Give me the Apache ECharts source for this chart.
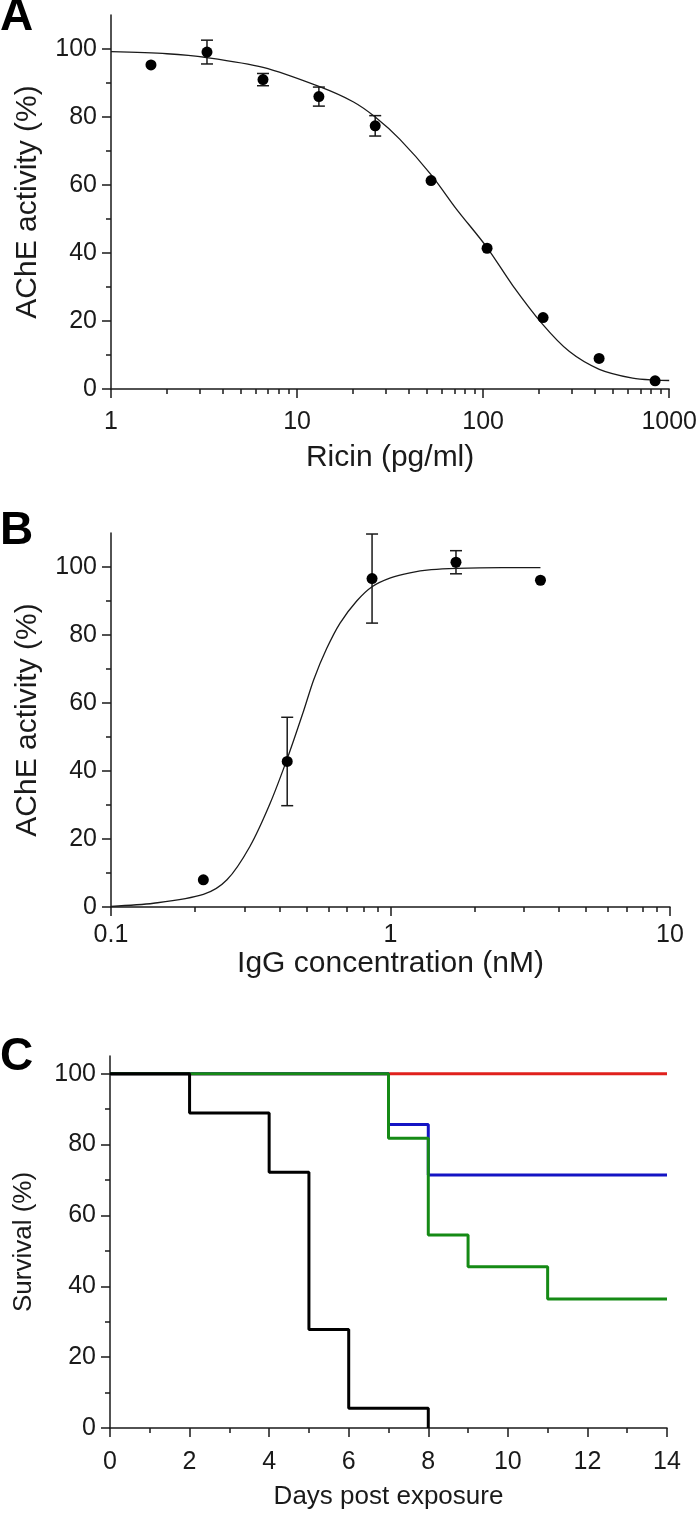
<!DOCTYPE html>
<html>
<head>
<meta charset="utf-8">
<script src="https://cdn.jsdelivr.net/npm/echarts@6/dist/echarts.min.js"></script>
<style>
  html, body { margin: 0; padding: 0; background: #fff; }
  #chart { width: 700px; height: 1513px; }
</style>
</head>
<body>
<div id="chart"></div>
<script>
// Panel A: ricin dose response
const ricinDose = [1.64, 3.28, 6.56, 13.1, 26.3, 52.5, 105, 210, 420, 840];
const ricinMean = [95.3, 99.1, 91.0, 86.0, 77.4, 61.3, 41.4, 21.0, 9.0, 2.4];
const ricinErr = [0, 3.5, 1.8, 2.8, 3.0, 0, 0, 0, 0, 0];
const ricinFitX = [1, 2, 3.26, 6.57, 13.1, 20, 26.3, 35.6, 52.6, 71.7, 105, 144, 209, 291, 421, 636, 849, 1000];
const ricinFitY = [99.2, 98.6, 97.5, 94.6, 89.0, 84.5, 80.0, 73.5, 63.0, 53.0, 41.6, 30.5, 19.0, 11.0, 5.8, 3.2, 2.6, 2.5];
const ricinMinorTicks = [2, 3, 4, 5, 6, 7, 8, 9, 20, 30, 40, 50, 60, 70, 80, 90, 200, 300, 400, 500, 600, 700, 800, 900];

// Panel B: IgG neutralisation
const iggConc = [0.214, 0.427, 0.859, 1.715, 3.44];
const iggMean = [8.0, 42.8, 96.6, 101.4, 96.1];
const iggErr = [0, 13.0, 13.1, 3.4, 0];
const iggFitX = [0.1, 0.142, 0.214, 0.26, 0.314, 0.371, 0.43, 0.488, 0.532, 0.591, 0.66, 0.757, 0.859, 1.0, 1.174, 1.4, 1.72, 2.5, 3.44];
const iggFitY = [0.2, 1.1, 3.7, 8.0, 17.8, 30.5, 44.3, 57.5, 67.0, 76.0, 83.5, 90.0, 94.2, 96.8, 98.3, 99.2, 99.6, 99.8, 99.8];
const iggMinorTicks = [0.2, 0.3, 0.4, 0.5, 0.6, 0.7, 0.8, 0.9, 2, 3, 4, 5, 6, 7, 8, 9];

// Panel C: survival curves (day, % alive)
const survRed = [[0, 100], [14, 100]];
const survBlue = [[0, 100], [7, 85.7], [8, 71.4], [14, 71.4]];
const survGreen = [[0, 100], [7, 81.8], [8, 54.5], [9, 45.5], [11, 36.4], [14, 36.4]];
const survBlack = [[0, 100], [2, 88.9], [4, 72.2], [5, 27.8], [6, 5.6], [8, 0]];
const dayMinorTicks = [1, 3, 5, 7, 9, 11, 13];

const pctTicks = [0, 20, 40, 60, 80, 100];
const pctMinorTicks = [10, 30, 50, 70, 90];

const font = 'Liberation Sans, Arial, sans-serif';
const ink = '#1a1a1a';

const zip = (xs, ys) => xs.map((x, i) => [x, ys[i]]);
const withErr = (xs, ys, es) => xs.map((x, i) => [x, ys[i], es[i]]).filter(d => d[2] > 0);

function errorBars(params, api) {
  const x = api.value(0), y = api.value(1), e = api.value(2);
  const top = api.coord([x, y + e]);
  const bot = api.coord([x, y - e]);
  const w = 6;
  const style = { stroke: ink, lineWidth: 1.5 };
  return {
    type: 'group',
    children: [
      { type: 'line', shape: { x1: top[0], y1: top[1], x2: bot[0], y2: bot[1] }, style },
      { type: 'line', shape: { x1: top[0] - w, y1: top[1], x2: top[0] + w, y2: top[1] }, style },
      { type: 'line', shape: { x1: bot[0] - w, y1: bot[1], x2: bot[0] + w, y2: bot[1] }, style }
    ]
  };
}

const axisLine = { show: true, onZero: false, lineStyle: { color: ink, width: 1.5 } };
const tickLabel = { fontSize: 25, color: ink, fontFamily: font };

function mainX(grid, margin, extra) {
  return Object.assign({
    gridIndex: grid,
    position: 'bottom',
    axisLine,
    axisTick: { show: true, inside: false, length: 9, lineStyle: { color: ink, width: 1.5 } },
    axisLabel: Object.assign({ margin: margin, formatter: v => String(v) }, tickLabel),
    splitLine: { show: false },
    nameLocation: 'middle',
    nameTextStyle: { fontSize: 30, color: ink, fontFamily: font }
  }, extra);
}
function minorX(grid, extra, ticks) {
  return Object.assign({
    gridIndex: grid,
    position: 'bottom',
    axisLine: { show: false, onZero: false },
    axisLabel: { show: false },
    splitLine: { show: false },
    axisTick: { show: true, inside: false, length: 5, customValues: ticks, lineStyle: { color: ink, width: 1.5 } }
  }, extra);
}
function mainY(grid, max, name, nameSize, nameGap) {
  return {
    gridIndex: grid, type: 'value', min: 0, max: max, position: 'left',
    axisLine,
    axisTick: { show: true, inside: false, length: 9, customValues: pctTicks, lineStyle: { color: ink, width: 1.5 } },
    axisLabel: Object.assign({ margin: 14, customValues: pctTicks }, tickLabel),
    splitLine: { show: false },
    name: name, nameLocation: 'middle', nameGap: nameGap,
    nameTextStyle: { fontSize: nameSize, color: ink, fontFamily: font }
  };
}
function minorY(grid, max) {
  return {
    gridIndex: grid, type: 'value', min: 0, max: max, position: 'left',
    axisLine: { show: false, onZero: false },
    axisLabel: { show: false },
    splitLine: { show: false },
    axisTick: { show: true, inside: false, length: 5, customValues: pctMinorTicks, lineStyle: { color: ink, width: 1.5 } }
  };
}

const panelLabel = (text, top) => ({
  text, left: 0, top, padding: 0,
  textStyle: { fontSize: 46, fontWeight: 'bold', color: '#000', fontFamily: font }
});

const option = {
  backgroundColor: '#fff',
  animation: false,
  title: [panelLabel('A', -6), panelLabel('B', 508), panelLabel('C', 1034)],
  grid: [
    { left: 111, width: 559, top: 15, height: 374 },
    { left: 111, width: 559, top: 533, height: 374 },
    { left: 110, width: 557, top: 1056, height: 372 }
  ],
  xAxis: [
    mainX(0, 21, { type: 'log', logBase: 10, min: 1, max: 1000, name: 'Ricin (pg/ml)', nameGap: 54 }),
    minorX(0, { type: 'log', logBase: 10, min: 1, max: 1000 }, ricinMinorTicks),
    mainX(1, 16, { type: 'log', logBase: 10, min: 0.1, max: 10, name: 'IgG concentration (nM)', nameGap: 40 }),
    minorX(1, { type: 'log', logBase: 10, min: 0.1, max: 10 }, iggMinorTicks),
    mainX(2, 22, { type: 'value', min: 0, max: 14, interval: 2, name: 'Days post exposure', nameGap: 56,
      nameTextStyle: { fontSize: 26, color: ink, fontFamily: font } }),
    minorX(2, { type: 'value', min: 0, max: 14 }, dayMinorTicks)
  ],
  yAxis: [
    mainY(0, 110, 'AChE activity (%)', 30, 68),
    minorY(0, 110),
    mainY(1, 110, 'AChE activity (%)', 30, 68),
    minorY(1, 110),
    mainY(2, 105, 'Survival (%)', 26, 73),
    minorY(2, 105)
  ],
  series: [
    { type: 'line', xAxisIndex: 0, yAxisIndex: 0, data: zip(ricinFitX, ricinFitY), smooth: 0.3,
      showSymbol: false, lineStyle: { color: ink, width: 1.3 } },
    { type: 'custom', xAxisIndex: 0, yAxisIndex: 0, data: withErr(ricinDose, ricinMean, ricinErr),
      renderItem: errorBars, z: 3 },
    { type: 'scatter', xAxisIndex: 0, yAxisIndex: 0, data: zip(ricinDose, ricinMean), symbolSize: 11,
      itemStyle: { color: '#000', opacity: 1 }, z: 4 },

    { type: 'line', xAxisIndex: 2, yAxisIndex: 2, data: zip(iggFitX, iggFitY), smooth: 0.3,
      showSymbol: false, lineStyle: { color: ink, width: 1.3 } },
    { type: 'custom', xAxisIndex: 2, yAxisIndex: 2, data: withErr(iggConc, iggMean, iggErr),
      renderItem: errorBars, z: 3 },
    { type: 'scatter', xAxisIndex: 2, yAxisIndex: 2, data: zip(iggConc, iggMean), symbolSize: 11,
      itemStyle: { color: '#000', opacity: 1 }, z: 4 },

    { type: 'line', xAxisIndex: 4, yAxisIndex: 4, data: survRed, step: 'end', showSymbol: false,
      lineStyle: { color: '#e0201c', width: 3 }, z: 2 },
    { type: 'line', xAxisIndex: 4, yAxisIndex: 4, data: survBlue, step: 'end', showSymbol: false,
      lineStyle: { color: '#1414c4', width: 3 }, z: 3 },
    { type: 'line', xAxisIndex: 4, yAxisIndex: 4, data: survGreen, step: 'end', showSymbol: false,
      lineStyle: { color: '#158a15', width: 3 }, z: 4 },
    { type: 'line', xAxisIndex: 4, yAxisIndex: 4, data: survBlack, step: 'end', showSymbol: false,
      lineStyle: { color: '#000', width: 3 }, z: 5 }
  ]
};

const chart = echarts.init(document.getElementById('chart'));
chart.setOption(option);
</script>
</body>
</html>
